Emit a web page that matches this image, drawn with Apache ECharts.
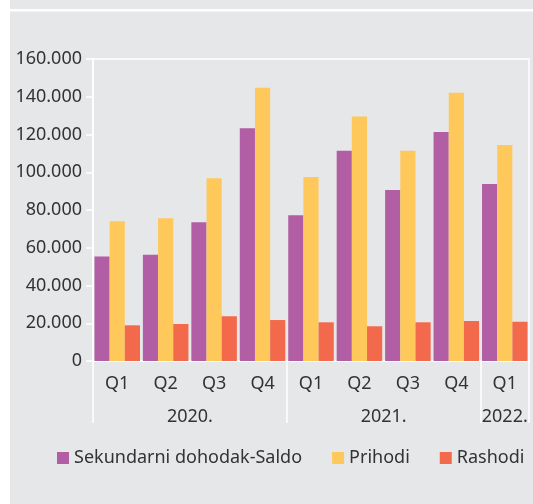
<!DOCTYPE html>
<html>
<head>
<meta charset="utf-8">
<script src="https://cdn.jsdelivr.net/npm/echarts@6/dist/echarts.min.js"></script>
<style>
  html, body { margin: 0; padding: 0; background: #fff; }
  #main { position: absolute; left: 10px; top: 0; width: 523px; height: 504px; background: #e6e7e9; }
</style>
</head>
<body>
<div id="main"></div>
<script>
var quarters = ['Q1', 'Q2', 'Q3', 'Q4', 'Q1', 'Q2', 'Q3', 'Q4', 'Q1'];
var years = ['2020.', '2021.', '2022.'];
var yearCounts = [4, 4, 1];
var saldo = [55300, 56300, 73500, 123300, 77200, 111400, 90600, 121300, 93800];
var prihodi = [74000, 75600, 96800, 144800, 97500, 129600, 111400, 142100, 114400];
var rashodi = [18900, 19600, 23700, 21700, 20500, 18400, 20500, 21200, 20800];

// granice i sredine grupa godina
var bounds = [0];
var centers = [];
yearCounts.forEach(function (c) {
  var start = bounds[bounds.length - 1];
  centers.push(start + c / 2);
  bounds.push(start + c);
});

var font = 'Noto Sans';
var txt = '#333';

var myChart = echarts.init(document.getElementById('main'));
var option = {
  backgroundColor: 'transparent',
  textStyle: { fontFamily: font },
  graphic: [{
    type: 'rect',
    shape: { x: 0, y: 9, width: 523, height: 2.5 },
    style: { fill: '#fff' }
  }],
  grid: {
    left: 83, right: 4, top: 59, bottom: 143,
    show: true, borderColor: '#fff', borderWidth: 1.5
  },
  legend: {
    bottom: 32,
    left: 42,
    itemWidth: 12,
    itemHeight: 12,
    itemGap: 30,
    icon: 'rect',
    textStyle: { fontFamily: font, fontSize: 18, color: txt },
    data: ['Sekundarni dohodak-Saldo', 'Prihodi', 'Rashodi']
  },
  xAxis: [{
    type: 'category',
    data: quarters,
    axisLine: { lineStyle: { color: '#fff', width: 1.5 } },
    axisTick: { length: 7, lineStyle: { color: '#fff', width: 1.5 } },
    axisLabel: { color: txt, fontSize: 18, fontFamily: font, margin: 14 }
  }, {
    type: 'value',
    position: 'bottom',
    min: 0,
    max: quarters.length,
    axisLine: { show: false },
    splitLine: { show: false },
    axisTick: { show: true, length: 62, customValues: bounds, lineStyle: { color: '#fff', width: 1.5 } },
    axisLabel: {
      color: txt, fontSize: 18, fontFamily: font, margin: 47,
      customValues: centers,
      formatter: function (v) {
        var i = centers.indexOf(v);
        return i >= 0 ? years[i] : '';
      }
    }
  }],
  yAxis: {
    type: 'value',
    min: 0,
    max: 160000,
    interval: 20000,
    splitLine: { show: false },
    axisLine: { show: true, lineStyle: { color: '#fff', width: 1.5 } },
    axisTick: { show: true, length: 7, lineStyle: { color: '#fff', width: 1.5 } },
    axisLabel: {
      color: txt, fontSize: 18, fontFamily: font, margin: 11,
      formatter: function (v) {
        return String(v).replace(/\B(?=(\d{3})+(?!\d))/g, '.');
      }
    }
  },
  series: [{
    name: 'Sekundarni dohodak-Saldo',
    type: 'bar',
    barGap: 0,
    barCategoryGap: '6%',
    itemStyle: { color: '#b25ea5' },
    data: saldo
  }, {
    name: 'Prihodi',
    type: 'bar',
    barGap: 0,
    barCategoryGap: '6%',
    itemStyle: { color: '#fec85b' },
    data: prihodi
  }, {
    name: 'Rashodi',
    type: 'bar',
    barGap: 0,
    barCategoryGap: '6%',
    itemStyle: { color: '#f2694c' },
    data: rashodi
  }]
};
myChart.setOption(option);
window.addEventListener('resize', function () {
  myChart.resize();
});
</script>
</body>
</html>
